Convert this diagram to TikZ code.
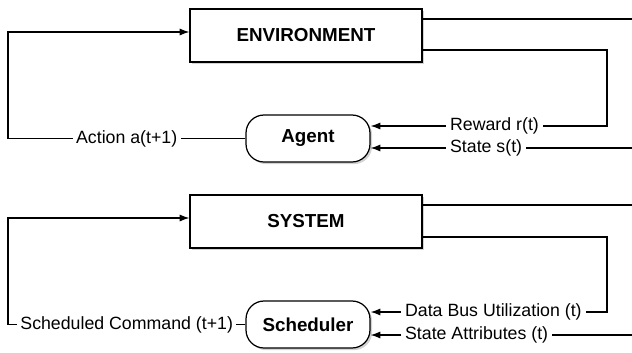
\documentclass[tikz,border=0pt]{standalone}
\usepackage{fontspec}
\setmainfont{Liberation Sans}
\usetikzlibrary{arrows.meta,shadows}

\tikzset{
  block/.style={draw,fill=white,minimum width=4.64cm,minimum height=1.06cm,
    font=\fontsize{10.7}{12}\selectfont\bfseries,
    drop shadow={opacity=0.35,shadow xshift=1.2pt,shadow yshift=-1.2pt}},
  actor/.style={draw,fill=white,rounded corners=0.36cm,minimum width=2.48cm,minimum height=0.94cm,
    font=\fontsize{10.7}{12}\selectfont\bfseries,
    drop shadow={opacity=0.35,shadow xshift=1.2pt,shadow yshift=-1.2pt}},
  lbl/.style={fill=white,inner sep=2pt,font=\fontsize{10.1}{12}\selectfont}
}

\begin{document}
\begin{tikzpicture}[x=0.02cm,y=-0.02cm,line width=0.7pt,>={Latex[length=5.5pt,width=4pt]}]
  \useasboundingbox (0,0) rectangle (632,352);

  % upper loop
  \node[block] (env) at (306,35.5) {ENVIRONMENT};
  \node[actor] (agent) at (308,138.5) {Agent};
  \node[lbl,anchor=west] (rlab) at (446,126) {Reward r(t)};
  \node[lbl,anchor=west] (slab) at (446,148) {State s(t)};
  \coordinate (act) at (8,32);
  \coordinate (envtop) at (632,19);
  \coordinate (rwd) at (607,50);
  \coordinate (stin) at (632,148);

  \draw[->] (agent.west) -- node[lbl] (alab) {Action a(t+1)} (agent.west -| act) -- (act) -- (env.west |- act);
  \draw (env.east |- envtop) -- (envtop);
  \draw (env.east |- rwd) -- (rwd) |- (rlab);
  \draw[->] (rlab) -- (agent.east |- rlab);
  \draw (stin) -- (slab);
  \draw[->] (slab) -- (agent.east |- slab);

  % lower loop
  \node[block] (sys) at (306,221.5) {SYSTEM};
  \node[actor] (sched) at (308,324.5) {Scheduler};
  \node[lbl,anchor=west] (ulab) at (401,312) {Data Bus Utilization (t)};
  \node[lbl,anchor=west] (tlab) at (401,335) {State Attributes (t)};
  \coordinate (cmd) at (8,218);
  \coordinate (systop) at (632,205);
  \coordinate (bus) at (607,237);
  \coordinate (attin) at (632,335);

  \draw[->] (sched.west) -- node[lbl] (clab) {Scheduled Command (t+1)} (sched.west -| cmd) -- (cmd) -- (sys.west |- cmd);
  \draw (sys.east |- systop) -- (systop);
  \draw (sys.east |- bus) -- (bus) |- (ulab);
  \draw[->] (ulab) -- (sched.east |- ulab);
  \draw (attin) -- (tlab);
  \draw[->] (tlab) -- (sched.east |- tlab);
\end{tikzpicture}
\end{document}
